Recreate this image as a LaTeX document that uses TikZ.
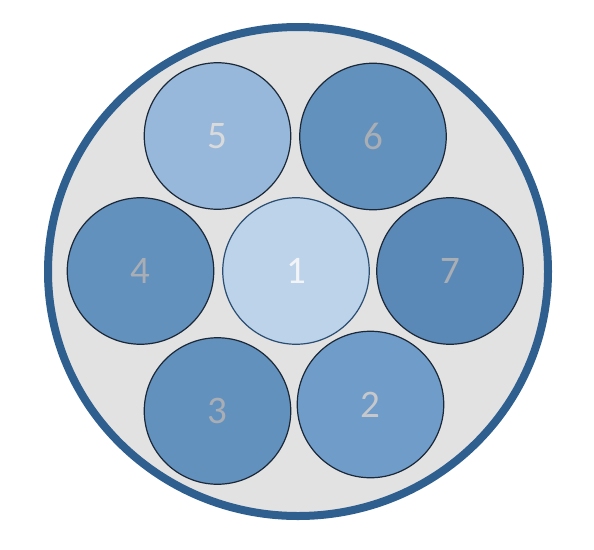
\documentclass[tikz,border=0pt]{standalone}
\usepackage{fontspec}
\setmainfont{Carlito}
\usepackage{tikz}

\definecolor{ringblue}{HTML}{2E5F8E}
\definecolor{cablegray}{HTML}{E2E2E2}
\definecolor{wireline}{HTML}{1B2838}
\definecolor{coreline}{HTML}{2A4D72}
\definecolor{fillA}{HTML}{BCD3EA}
\definecolor{fillB}{HTML}{97B8DA}
\definecolor{fillC}{HTML}{6291BE}
\definecolor{fillD}{HTML}{5B89B7}
\definecolor{fillE}{HTML}{6F9CC8}
\definecolor{labA}{HTML}{F2F4F7}
\definecolor{labB}{HTML}{D9DADC}
\definecolor{labC}{HTML}{A9AEB5}
\definecolor{labE}{HTML}{C6C8CC}

\begin{document}
\begin{tikzpicture}
        [
        x=1pt, y=-1pt,
        wire/.style={circle,draw=wireline,line width=1.2pt,minimum size=146.5pt,
            inner sep=0pt,font=\fontsize{39}{39}\selectfont},
        cable/.style={fill=cablegray,draw=ringblue,line width=8pt}
        ]
    \useasboundingbox (0,0) rectangle (594,549);
    \filldraw[cable] (298,271.5) ellipse (250 and 244.5);
    \node[wire,draw=coreline,fill=fillA,text=labA] (1) at (296,271) {1};
    \node[wire,fill=fillE,text=labE] (2) at (370.5,404.5) {2};
    \node[wire,fill=fillC,text=labC] (3) at (217.5,411) {3};
    \node[wire,fill=fillC,text=labC] (4) at (140.5,271) {4};
    \node[wire,fill=fillB,text=labB] (5) at (217.5,136) {5};
    \node[wire,fill=fillC,text=labC] (6) at (373,136.5) {6};
    \node[wire,fill=fillD,text=labC] (7) at (450,271) {7};
\end{tikzpicture}
\end{document}
